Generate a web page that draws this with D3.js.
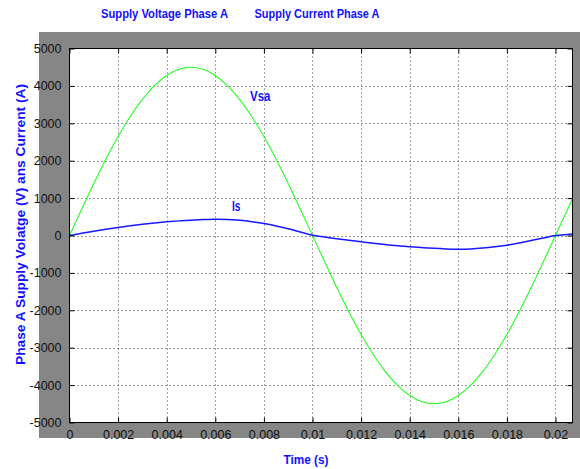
<!DOCTYPE html>
<html>
<head>
<meta charset="utf-8">
<script src="https://cdn.jsdelivr.net/npm/d3@7"></script>
<style>
  html, body { margin: 0; padding: 0; background: #ffffff; }
  svg { display: block; }
</style>
</head>
<body>
<svg id="chart" width="580" height="469"></svg>
<script>
// ---- data ----
const timeSeconds = [
  0, 0.0005, 0.001, 0.0015, 0.002, 0.0025, 0.003, 0.0035, 0.004, 0.0045,
  0.005, 0.0055, 0.006, 0.0065, 0.007, 0.0075, 0.008, 0.0085, 0.009, 0.0095,
  0.01, 0.0105, 0.011, 0.0115, 0.012, 0.0125, 0.013, 0.0135, 0.014, 0.0145,
  0.015, 0.0155, 0.016, 0.0165, 0.017, 0.0175, 0.018, 0.0185, 0.019, 0.0195,
  0.02, 0.0205, 0.0207
];
const vsaVolts = [
  0, 700, 1390, 2045, 2645, 3180, 3640, 4010, 4280, 4445,
  4500, 4445, 4280, 4010, 3640, 3180, 2645, 2045, 1390, 700,
  0, -700, -1390, -2045, -2645, -3180, -3640, -4010, -4280, -4445,
  -4500, -4445, -4280, -4010, -3640, -3180, -2645, -2045, -1390, -700,
  0, 700, 980
];
const isAmps = [
  0, 58, 114, 166, 214, 258, 298, 334, 365, 391,
  411, 425, 433, 428, 405, 368, 318, 255, 180, 95,
  5, -42, -88, -130, -170, -208, -243, -274, -300, -324,
  -344, -358, -365, -358, -336, -302, -258, -200, -135, -68,
  -3, 28, 40
];
const xTickValues = [0, 0.002, 0.004, 0.006, 0.008, 0.01, 0.012, 0.014, 0.016, 0.018, 0.02];
const xTickLabels = ["0", "0.002", "0.004", "0.006", "0.008", "0.01", "0.012", "0.014", "0.016", "0.018", "0.02"];
const yTickValues = [-5000, -4000, -3000, -2000, -1000, 0, 1000, 2000, 3000, 4000, 5000];
const yTickLabels = ["-5000", "-4000", "-3000", "-2000", "-1000", "0", "1000", "2000", "3000", "4000", "5000"];
const legendTitles = ["Supply Voltage Phase A", "Supply Current Phase A"];
const xDomain = [0, 0.0207];
const yDomain = [-5000, 5000];

// ---- layout ----
const svg = d3.select("#chart");
const plotL = 69.5, plotR = 572.5, plotT = 48.5, plotB = 422.5;
const x = d3.scaleLinear().domain(xDomain).range([plotL, plotR]);
const y = d3.scaleLinear().domain(yDomain).range([plotB, plotT]);

const narrow = "'Liberation Sans Narrow', 'Arial Narrow', 'Liberation Sans', Arial, sans-serif";
const BLUE = "#1010ff";

// gray figure panel
svg.append("rect").attr("x", 39).attr("y", 32).attr("width", 560).attr("height", 406)
  .attr("fill", "#868686");

// white plot area
svg.append("rect").attr("x", plotL).attr("y", plotT)
  .attr("width", plotR - plotL).attr("height", plotB - plotT).attr("fill", "#ffffff");

// grid
const grid = svg.append("g");
grid.selectAll("line.vg").data(xTickValues.slice(1)).join("line")
  .attr("x1", d => Math.round(x(d)) + 0.5).attr("x2", d => Math.round(x(d)) + 0.5)
  .attr("y1", plotT).attr("y2", plotB)
  .attr("stroke", "#444").attr("stroke-width", 1).attr("stroke-dasharray", "1,3");
grid.selectAll("line.hg").data(yTickValues.slice(1, -1)).join("line")
  .attr("x1", plotL).attr("x2", plotR)
  .attr("y1", d => Math.round(y(d)) + 0.5).attr("y2", d => Math.round(y(d)) + 0.5)
  .attr("stroke", "#333").attr("stroke-width", 1).attr("stroke-dasharray", "1,3");

// curves
svg.append("clipPath").attr("id", "clip").append("rect")
  .attr("x", plotL).attr("y", plotT).attr("width", plotR - plotL).attr("height", plotB - plotT);
const lineGen = vals => d3.line()
  .x((d, i) => x(timeSeconds[i]))
  .y((d) => y(d))
  .curve(d3.curveCatmullRom)(vals);
svg.append("path").attr("d", lineGen(vsaVolts)).attr("clip-path", "url(#clip)")
  .attr("fill", "none").attr("stroke", "#22ff22").attr("stroke-width", 1.1);
svg.append("path").attr("d", lineGen(isAmps)).attr("clip-path", "url(#clip)")
  .attr("fill", "none").attr("stroke", "#1818ff").attr("stroke-width", 1.5);

// axes with inward ticks
const tickLen = 5;
const xAxisB = d3.axisBottom(x).tickValues(xTickValues).tickSize(-tickLen).tickPadding(tickLen + 3)
  .tickFormat((d, i) => xTickLabels[i]);
const xAxisT = d3.axisTop(x).tickValues(xTickValues).tickSize(-tickLen).tickFormat("");
const yAxisL = d3.axisLeft(y).tickValues(yTickValues).tickSize(-tickLen).tickPadding(tickLen + 3)
  .tickFormat((d, i) => yTickLabels[i]);
const yAxisR = d3.axisRight(y).tickValues(yTickValues).tickSize(-tickLen).tickFormat("");

function styleAxis(g) {
  g.select(".domain").remove();
  g.selectAll(".tick line").attr("stroke", "#000");
  g.selectAll(".tick text").attr("fill", "#111").attr("font-family", narrow).attr("font-size", 12.5);
}
svg.append("g").attr("transform", `translate(0,${plotB})`).call(xAxisB).call(styleAxis);
svg.append("g").attr("transform", `translate(0,${plotT})`).call(xAxisT).call(styleAxis);
svg.append("g").attr("transform", `translate(${plotL},0)`).call(yAxisL).call(styleAxis);
svg.append("g").attr("transform", `translate(${plotR},0)`).call(yAxisR).call(styleAxis);

// box
svg.append("rect").attr("x", plotL).attr("y", plotT)
  .attr("width", plotR - plotL).attr("height", plotB - plotT)
  .attr("fill", "none").attr("stroke", "#000").attr("stroke-width", 1);

// titles / labels
const boldText = (txt, px, py, size, len) => svg.append("text")
  .attr("x", px).attr("y", py).text(txt)
  .attr("font-family", narrow).attr("font-weight", "bold").attr("font-size", size)
  .attr("fill", BLUE).attr("textLength", len).attr("lengthAdjust", "spacingAndGlyphs");

boldText(legendTitles[0], 101, 18, 13, 127);
boldText(legendTitles[1], 254.5, 18, 13, 125);
boldText("Time (s)", 283.5, 463.5, 13.5, 45);
boldText("Vsa", 250, 100.5, 14, 20.5);
boldText("Is", 232, 210.5, 14, 8.5);
svg.append("text")
  .attr("transform", "translate(24.5,365) rotate(-90)")
  .text("Phase A Supply Volatge (V) ans Current (A)")
  .attr("font-family", narrow).attr("font-weight", "bold").attr("font-size", 13.5)
  .attr("fill", BLUE).attr("textLength", 281).attr("lengthAdjust", "spacingAndGlyphs");
</script>
</body>
</html>
